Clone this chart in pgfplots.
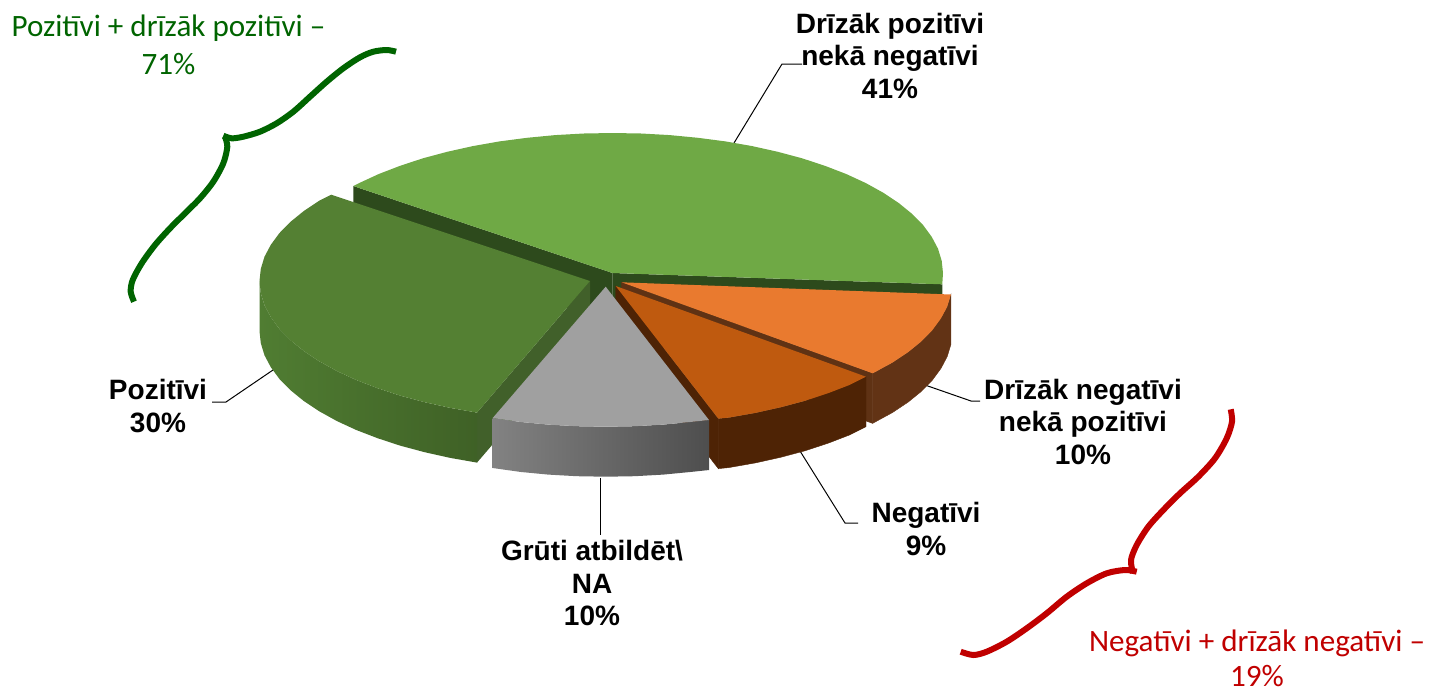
\documentclass[border=0pt]{standalone}
\usepackage{pgfplots}
\pgfplotsset{compat=1.18}
\usepackage{fontspec}
\setmainfont{Liberation Sans}
\newfontfamily\carlito{Carlito}
\definecolor{lg}{HTML}{6FA945}
\definecolor{lgcut}{HTML}{2D4A1C}
\definecolor{dg}{HTML}{548033}
\definecolor{dgcut}{HTML}{41602A}
\definecolor{dgsideL}{HTML}{507D32}
\definecolor{dgsideR}{HTML}{3F6126}
\definecolor{or}{HTML}{E97A2F}
\definecolor{orcut}{HTML}{5F3214}
\definecolor{orside}{HTML}{623315}
\definecolor{dor}{HTML}{BF5A0F}
\definecolor{dorcut}{HTML}{4E2305}
\definecolor{gr}{HTML}{A0A0A0}
\definecolor{grsideL}{HTML}{828282}
\definecolor{grsideR}{HTML}{4E4E4E}
\definecolor{bracegreen}{HTML}{006400}
\definecolor{bracered}{HTML}{C00000}
\tikzset{
  lab/.style={anchor=base, font=\fontsize{14}{16}\selectfont\bfseries, inner sep=0pt},
  grn/.style={anchor=base, font=\fontsize{15.55}{18}\selectfont\carlito, text=bracegreen, inner sep=0pt},
  rd/.style={anchor=base, font=\fontsize{15.55}{18}\selectfont\carlito, text=bracered, inner sep=0pt},
  lead/.style={black, line width=0.5pt},
  br/.style={line width=3pt, smooth},
}
\begin{document}
\begin{tikzpicture}
\begin{axis}[
  at={(0,0)}, anchor=south west,
  scale only axis, width=715pt, height=346pt,
  xmin=0, xmax=1430, ymin=0, ymax=692, y dir=reverse,
  hide axis, clip=false,
]
% leader lines
\addplot[lead] coordinates {(802,64)(782,64)(734,143)};
\addplot[lead] coordinates {(212,402)(226,402)(273,370)};
\addplot[lead] coordinates {(980,401)(971,401)(925,385)};
\addplot[lead] coordinates {(858,523)(845,523)(800,451)};
\addplot[lead] coordinates {(600.3,478)(600.3,535)};
% 41 %: cut faces and top
\addplot[fill=lgcut,draw=none] coordinates {(353.3,186)(612.5,273)(612.5,323)(353.3,236)} --cycle;
\addplot[fill=lgcut,draw=none] coordinates {(612.5,273)(942.3,284.3)(942.3,334)(612.5,323)} --cycle;
\addplot[fill=lg,draw=none] coordinates {(612.5,273)(353.3,186)(359.3,183)(378.8,174)(400.1,165.8)(422.9,158.3)(447.2,151.8)(472.8,146.1)(499.5,141.4)(527,137.8)(555.1,135.1)(583.7,133.5)(612.5,133)(641.3,133.5)(669.9,135.1)(698,137.8)(725.5,141.4)(752.2,146.1)(777.8,151.8)(802.1,158.3)(824.9,165.8)(846.2,174)(865.7,183)(883.2,192.7)(898.7,203)(912,213.8)(923.1,225.1)(931.7,236.8)(938,248.7)(941.7,260.8)(943,273)(942.3,284.3)} --cycle;
% 30 %
\addplot[fill=dgcut,draw=none] coordinates {(590,281)(477,412.6)(477,462.6)(590,331)} --cycle;
\addplot[draw=none,left color=dgsideL,right color=dgsideR] coordinates {(259.5,281)(260.8,293.2)(264.5,305.3)(270.8,317.2)(279.4,328.9)(290.5,340.2)(303.8,351)(319.3,361.3)(336.8,371)(356.3,380)(377.6,388.2)(400.4,395.7)(424.7,402.2)(450.3,407.9)(477,412.6)(477,462.6)(450.3,457.9)(424.7,452.2)(400.4,445.7)(377.6,438.2)(356.3,430)(336.8,421)(319.3,411.3)(303.8,401)(290.5,390.2)(279.4,378.9)(270.8,367.2)(264.5,355.3)(260.8,343.2)(259.5,331)} --cycle;
\addplot[fill=dg,draw=none] coordinates {(590,281)(331.3,194.7)(319.3,200.7)(303.8,211)(290.5,221.8)(279.4,233.1)(270.8,244.8)(264.5,256.7)(260.8,268.8)(259.5,281)(260.8,293.2)(264.5,305.3)(270.8,317.2)(279.4,328.9)(290.5,340.2)(303.8,351)(319.3,361.3)(336.8,371)(356.3,380)(377.6,388.2)(400.4,395.7)(424.7,402.2)(450.3,407.9)(477,412.6)} --cycle;
% 10 % orange
\addplot[fill=orcut,draw=orcut,line width=0.3pt] coordinates {(621.7,282.3)(872.7,373.3)(872.7,423.3)(621.7,332.3)} --cycle;
\addplot[fill=orside,draw=orside,line width=0.2pt] coordinates {(950.9,294.5)(947.2,306.6)(940.9,318.5)(932.3,330.2)(921.2,341.5)(907.9,352.3)(892.4,362.6)(872.7,373.3)(872.7,423.3)(892.4,412.6)(907.9,402.3)(921.2,391.5)(932.3,380.2)(940.9,368.5)(947.2,356.6)(950.9,344.5)} --cycle;
\addplot[fill=or,draw=none] coordinates {(621.7,282.3)(872.7,373.3)(892.4,362.6)(907.9,352.3)(921.2,341.5)(932.3,330.2)(940.9,318.5)(947.2,306.6)(950.9,294.5)} --cycle;
% 9 % dark orange
\addplot[fill=dorcut,draw=dorcut,line width=0.2pt] coordinates {(615.7,286)(718.3,418.6)(718.3,468.6)(615.7,336)} --cycle;
\addplot[fill=dorcut,draw=dorcut,line width=0.2pt] coordinates {(866,376.7)(849.4,385)(828.1,393.2)(805.3,400.7)(781,407.2)(755.4,412.9)(728.7,417.6)(718.3,418.6)(718.3,468.6)(728.7,467.6)(755.4,462.9)(781,457.2)(805.3,450.7)(828.1,443.2)(849.4,435)(866,426.7)} --cycle;
\addplot[fill=dor,draw=none] coordinates {(615.7,286)(718.3,418.6)(728.7,417.6)(755.4,412.9)(781,407.2)(805.3,400.7)(828.1,393.2)(849.4,385)(866,376.7)} --cycle;
% 10 % grey
\addplot[draw=none,left color=grsideL,right color=grsideR] coordinates {(492.7,418)(520.2,421.9)(548.3,424.6)(576.9,426.2)(605.7,426.7)(634.5,426.2)(663.1,424.6)(691.2,421.9)(709,420)(709,470)(691.2,471.9)(663.1,474.6)(634.5,476.2)(605.7,476.7)(576.9,476.2)(548.3,474.6)(520.2,471.9)(492.7,468)} --cycle;
\addplot[fill=gr,draw=none] coordinates {(605.7,286.7)(492.7,418)(520.2,421.9)(548.3,424.6)(576.9,426.2)(605.7,426.7)(634.5,426.2)(663.1,424.6)(691.2,421.9)(709,420)} --cycle;
% braces
\addplot[br,bracegreen] coordinates {(396,51.7)(386.7,50)(373.3,51.7)(360,57.3)(343.3,68.3)(326.7,81.7)(310,96.7)(293.3,111.7)(276.7,123.3)(260,131.7)(243.3,136.7)(231.7,138.3)(223.3,135.7)};
\addplot[br,bracegreen] coordinates {(225,136.7)(227.3,146.7)(223.3,163.3)(213.3,181.7)(200,198.3)(185,213.3)(170,228.3)(155,245)(141.7,263.3)(132.7,280)(130.7,291.7)(134,301.7)};
\addplot[br,bracered] coordinates {(1230.7,409.3)(1232,421.7)(1226.7,438.3)(1215,458.3)(1198.3,476.7)(1180,493.3)(1163.3,510)(1148.3,526.7)(1136.7,545)(1131,560)(1133,573)};
\addplot[br,bracered] coordinates {(1136.7,571.7)(1125,570)(1106.7,573.3)(1086.7,583.3)(1066.7,596.7)(1046.7,613.3)(1026.7,628.3)(1006.7,641.7)(986.7,651.7)(973.3,655)(960.7,651.7)};
% labels
\node[lab] at (axis cs:890,33) {Drīzāk pozitīvi};
\node[lab] at (axis cs:890,65) {nekā negatīvi};
\node[lab] at (axis cs:890,98) {41\%};
\node[lab] at (axis cs:158,399) {Pozitīvi};
\node[lab] at (axis cs:158,432) {30\%};
\node[lab] at (axis cs:1083,399) {Drīzāk negatīvi};
\node[lab] at (axis cs:1083,431.7) {nekā pozitīvi};
\node[lab] at (axis cs:1083,464) {10\%};
\node[lab] at (axis cs:926,522) {Negatīvi};
\node[lab] at (axis cs:926,555) {9\%};
\node[lab] at (axis cs:592,560) {Grūti atbildēt\textbackslash};
\node[lab] at (axis cs:592,593) {NA};
\node[lab] at (axis cs:592,625) {10\%};
\node[grn] at (axis cs:168.5,36) {Pozitīvi + drīzāk pozitīvi –};
\node[grn] at (axis cs:168.5,74) {71\%};
\node[rd] at (axis cs:1257,651.7) {Negatīvi + drīzāk negatīvi –};
\node[rd] at (axis cs:1257,686.5) {19\%};
\end{axis}
\pgfresetboundingbox
\path (0,0) rectangle (715pt,346pt);
\end{tikzpicture}
\end{document}
